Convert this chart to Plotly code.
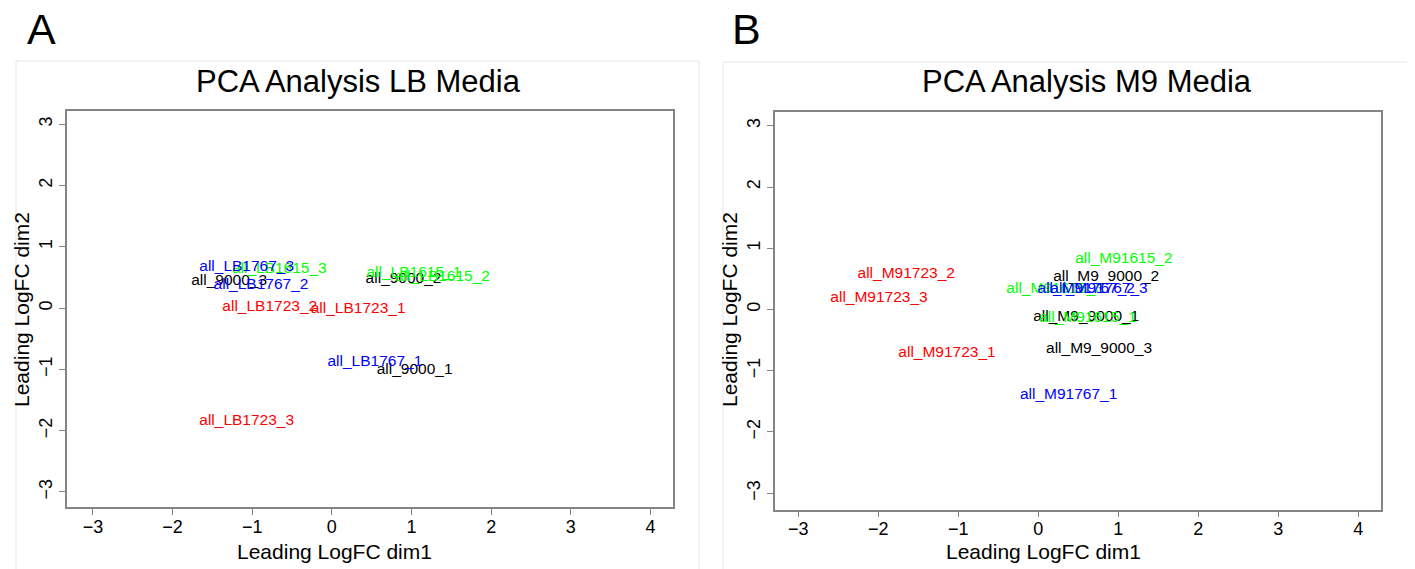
import plotly.graph_objects as go

# ---- data ----
lb_names = ["all_9000_1", "all_9000_2", "all_9000_3",
            "all_LB1615_1", "all_LB1615_2", "all_LB1615_3",
            "all_LB1723_1", "all_LB1723_2", "all_LB1723_3",
            "all_LB1767_1", "all_LB1767_2", "all_LB1767_3"]
lb_dim1 = [1.04, 0.90, -1.29, 1.03, 1.39, -0.66, 0.33, -0.78, -1.07, 0.54, -0.89, -1.07]
lb_dim2 = [-1.02, 0.48, 0.44, 0.57, 0.51, 0.64, -0.01, 0.02, -1.84, -0.88, 0.38, 0.67]
lb_group = ["9000", "9000", "9000", "1615", "1615", "1615",
            "1723", "1723", "1723", "1767", "1767", "1767"]

m9_names = ["all_M9_9000_1", "all_M9_9000_2", "all_M9_9000_3",
            "all_M91615_1", "all_M91615_2", "all_M91615_3",
            "all_M91723_1", "all_M91723_2", "all_M91723_3",
            "all_M91767_1", "all_M91767_2", "all_M91767_3"]
m9_dim1 = [0.60, 0.85, 0.76, 0.62, 1.07, 0.21, -1.14, -1.65, -1.99, 0.38, 0.60, 0.76]
m9_dim2 = [-0.12, 0.53, -0.64, -0.14, 0.83, 0.34, -0.71, 0.57, 0.19, -1.40, 0.34, 0.34]
m9_group = ["9000", "9000", "9000", "1615", "1615", "1615",
            "1723", "1723", "1723", "1767", "1767", "1767"]

tick_vals_x = [-3, -2, -1, 0, 1, 2, 3, 4]
tick_vals_y = [-3, -2, -1, 0, 1, 2, 3]
tick_text_x = ["\u22123", "\u22122", "\u22121", "0", "1", "2", "3", "4"]
tick_text_y = ["\u22123", "\u22122", "\u22121", "0", "1", "2", "3"]

titles = ["PCA Analysis LB Media", "PCA Analysis M9 Media"]
panel_letters = ["A", "B"]
x_title = "Leading LogFC dim1"
y_title = "Leading LogFC dim2"

# ---- style ----
group_colors = {"9000": "#000000", "1615": "#00FF00", "1723": "#FF0000", "1767": "#0000FF"}
FONT = "Liberation Sans, Arial, Helvetica, sans-serif"
OFF = 8                      # page body margin
W, H = 1415 - OFF, 569 - OFF
AXC = "#858585"

fig = go.Figure()

fig.add_trace(go.Scatter(
    x=lb_dim1, y=lb_dim2, text=lb_names, mode="text",
    textposition="middle center",
    textfont=dict(family=FONT, size=15.5, color=[group_colors[g] for g in lb_group]),
    xaxis="x", yaxis="y", showlegend=False, hoverinfo="text"))
fig.add_trace(go.Scatter(
    x=m9_dim1, y=m9_dim2, text=m9_names, mode="text",
    textposition="middle center",
    textfont=dict(family=FONT, size=15.5, color=[group_colors[g] for g in m9_group]),
    xaxis="x2", yaxis="y2", showlegend=False, hoverinfo="text"))


def px(v):
    return (v - OFF) / W


def py(v):
    return 1 - (v - OFF) / H


common_axis = dict(showline=True, linecolor=AXC, linewidth=1.5, mirror=True,
                   ticks="outside", ticklen=6, tickwidth=1, tickcolor=AXC,
                   showgrid=False, zeroline=False,
                   tickfont=dict(family=FONT, size=18, color="black"))

fig.update_layout(
    width=W, height=H, margin=dict(l=0, r=0, t=0, b=0),
    paper_bgcolor="white", plot_bgcolor="white",
    xaxis=dict(domain=[px(66.7), px(672.7)], range=[-3.33, 4.28], anchor="y",
               tickvals=tick_vals_x, ticktext=tick_text_x, ticklabelstandoff=-4,
               **common_axis),
    yaxis=dict(domain=[py(507.3), py(110.7)], range=[-3.25, 3.22], anchor="x",
               tickvals=tick_vals_y, ticktext=tick_text_y, tickangle=-90, **common_axis),
    xaxis2=dict(domain=[px(775), px(1380.7)], range=[-3.29, 4.28], anchor="y2",
                tickvals=tick_vals_x, ticktext=tick_text_x, ticklabelstandoff=-4,
                **common_axis),
    yaxis2=dict(domain=[py(509.7), py(112.3)], range=[-3.27, 3.22], anchor="x2",
                tickvals=tick_vals_y, ticktext=tick_text_y, tickangle=-90, **common_axis),
)

# panel frames
frame_c = "#e6e6e6"
fig.add_shape(type="rect", xref="paper", yref="paper",
              x0=px(16), x1=px(699), y0=py(585), y1=py(61),
              line=dict(color=frame_c, width=1), layer="below")
fig.add_shape(type="rect", xref="paper", yref="paper",
              x0=px(723), x1=px(1408), y0=py(585), y1=py(62),
              line=dict(color=frame_c, width=1), layer="below")

ann = []
# panel letters
for letter, lx in zip(panel_letters, [41, 746]):
    ann.append(dict(text=letter, x=px(lx), y=py(29), xref="paper", yref="paper",
                    showarrow=False, font=dict(family=FONT, size=43, color="black"),
                    height=38, valign="middle",
                    xanchor="center", yanchor="middle"))
# titles
ann.append(dict(text=titles[0], x=px(358), y=py(82), xref="paper", yref="paper",
                showarrow=False, font=dict(family=FONT, size=31, color="black"),
                xanchor="center", yanchor="middle"))
ann.append(dict(text=titles[1], x=px(1087), y=py(82), xref="paper", yref="paper",
                showarrow=False, font=dict(family=FONT, size=31, color="black"),
                xanchor="center", yanchor="middle"))
# axis titles
for cx, cyx, cxy in [(334, 551, 21), (1043, 551, 729)]:
    ann.append(dict(text=x_title, x=px(cx), y=py(cyx), xref="paper", yref="paper",
                    showarrow=False, font=dict(family=FONT, size=21, color="black"),
                    xanchor="center", yanchor="middle"))
    ann.append(dict(text=y_title, x=px(cxy), y=py(310), xref="paper", yref="paper",
                    showarrow=False, textangle=-90,
                    font=dict(family=FONT, size=21, color="black"),
                    xanchor="center", yanchor="middle"))
fig.update_layout(annotations=ann)

fig.write_html("out.html")
